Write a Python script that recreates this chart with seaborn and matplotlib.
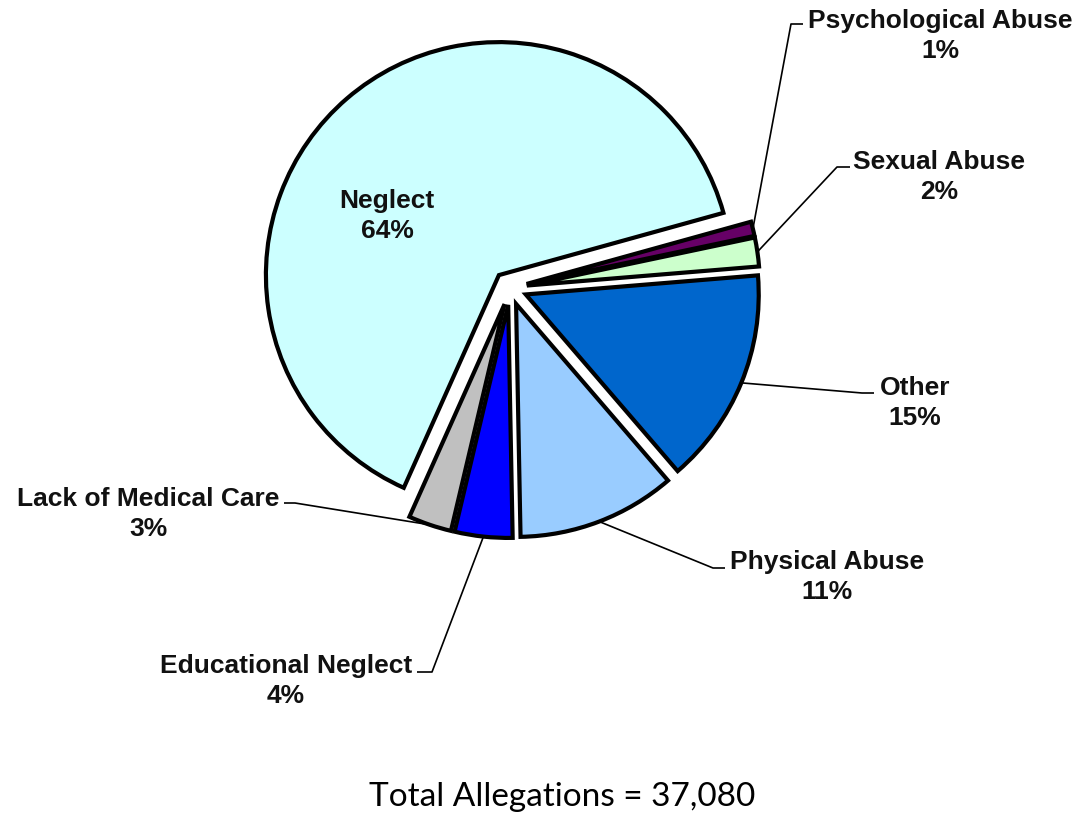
import matplotlib
matplotlib.use("Agg")
import matplotlib.pyplot as plt
import numpy as np
import seaborn as sns

# Allegation categories, clockwise from the upper right
categories = ["Psychological Abuse", "Sexual Abuse", "Other", "Physical Abuse",
              "Educational Neglect", "Lack of Medical Care", "Neglect"]
percents = [1, 2, 15, 11, 4, 3, 64]
colors = ["#660066", "#CCFFCC", "#0066CC", "#99CCFF", "#0000FF", "#C0C0C0", "#CCFFFF"]
total_allegations = 37080

W, H = 1080, 816
sns.set_theme(style="white")
plt.rcParams["font.family"] = ["Liberation Sans", "DejaVu Sans"]

fig = plt.figure(figsize=(W / 100, H / 100), dpi=100)
ax = fig.add_axes([0, 0, 1, 1])

# pie layout in pixel units (y measured from the top of the figure)
cx, cy, radius, gap = 510, 288, 233, 17


def fy(y):
    return H - y


wedges, _ = ax.pie(
    percents, colors=colors, startangle=15.5, counterclock=False,
    center=(cx, fy(cy)), radius=radius, explode=[gap] * len(percents),
    wedgeprops=dict(edgecolor="black", linewidth=3.0, joinstyle="miter"),
)
ax.set_xlim(0, W)
ax.set_ylim(0, H)
ax.set_aspect("auto")
ax.axis("off")

# label block centre, leader elbow, leader end (pixels from top-left)
label_layout = {
    "Psychological Abuse": ((940, 36), (791, 24), (803, 24)),
    "Sexual Abuse": ((939, 177), (837, 167), (850, 167)),
    "Other": ((915, 403), (862, 393), (874, 393)),
    "Physical Abuse": ((827, 577), (713, 568), (725, 568)),
    "Educational Neglect": ((286, 681), (432, 672), (417, 672)),
    "Lack of Medical Care": ((148, 514), (295, 503), (284, 503)),
    "Neglect": ((387, 216), None, None),
}

for wedge, name, pct in zip(wedges, categories, percents):
    (tx, ty), elbow, end = label_layout[name]
    ax.text(tx, fy(ty), f"{name}\n{pct}%", ha="center", va="center",
            fontsize=19, fontweight="bold", color="#111111",
            linespacing=1.32, multialignment="center")
    if elbow is None:
        continue
    mid = np.deg2rad(0.5 * (wedge.theta1 + wedge.theta2))
    sx = wedge.center[0] + wedge.r * np.cos(mid)
    sy = wedge.center[1] + wedge.r * np.sin(mid)
    ax.plot([sx, elbow[0], end[0]], [sy, fy(elbow[1]), fy(end[1])],
            color="black", linewidth=1.2, solid_capstyle="butt", zorder=0.5)

ax.text(562, fy(797), f"Total Allegations = {total_allegations:,}",
        ha="center", va="center", fontsize=24, family=["Lato", "DejaVu Sans"],
        color="black")

fig.savefig("out.png", dpi=100)
